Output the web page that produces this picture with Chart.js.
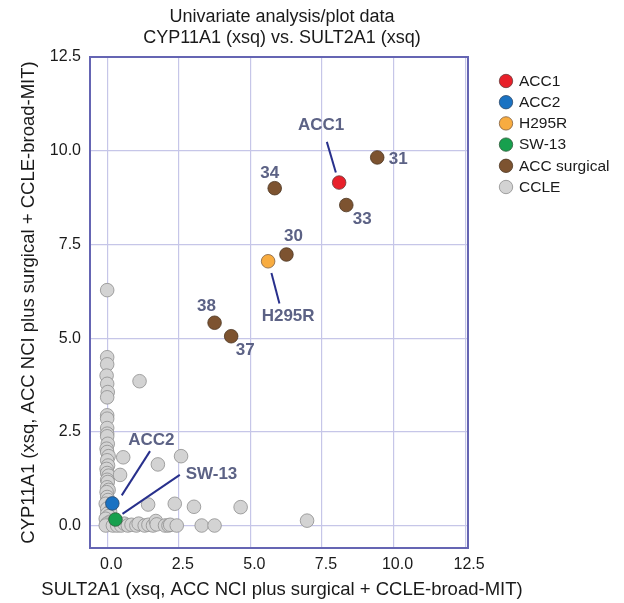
<!DOCTYPE html>
<html>
<head>
<meta charset="utf-8">
<script src="https://cdn.jsdelivr.net/npm/chart.js@4/dist/chart.umd.min.js"></script>
<style>
  html, body { margin: 0; padding: 0; background: #ffffff; }
  #wrap { width: 624px; height: 603px; position: relative; }
</style>
</head>
<body>
<div id="wrap"><canvas id="c" width="624" height="603"></canvas></div>
<script>
// ---------------- data ----------------
const seriesNames = ['ACC1', 'ACC2', 'H295R', 'SW-13', 'ACC surgical', 'CCLE'];

const acc1X = [8.1];   const acc1Y = [9.15];
const acc2X = [0.18];  const acc2Y = [0.59];
const h295rX = [5.62]; const h295rY = [7.05];
const sw13X = [0.29];  const sw13Y = [0.16];

const surgicalLabels = ['31', '34', '33', '30', '38', '37'];
const surgicalX = [9.43, 5.85, 8.35, 6.26, 3.75, 4.33];
const surgicalY = [9.82, 9.00, 8.55, 7.23, 5.41, 5.05];

const ccleX = [
  0.00, 0.00, 0.00, -0.02, 0.00, 0.02, 0.00, 0.00, 0.00, 0.00,
  0.00, 0.00, 0.02, -0.02, 0.00, 0.05, 0.00, 0.03, -0.02, 0.00,
  0.05, 0.00, 0.02, 0.00, 0.05, -0.02, 0.00, 0.03, -0.05, 0.00,
  0.10, 0.00, 0.05, -0.05, 0.10, 0.00, 0.15, -0.05, 0.20,
  1.13, 0.56, 1.77, 2.58, 0.45, 1.43, 2.36, 3.03, 4.66, 6.98,
  0.35, 0.49, 0.60, 0.72, 0.85, 1.02, 1.10, 1.31, 1.44, 1.60,
  1.70, 1.73, 2.02, 2.14, 2.20, 2.43, 3.30, 3.75
];
const ccleY = [
  6.28, 4.49, 4.30, 4.00, 3.78, 3.56, 3.42, 2.94, 2.85, 2.60,
  2.45, 2.38, 2.18, 2.05, 1.96, 1.85, 1.74, 1.60, 1.51, 1.40,
  1.33, 1.22, 1.16, 1.02, 0.95, 0.89, 0.76, 0.68, 0.58, 0.45,
  0.38, 0.31, 0.25, 0.18, 0.10, 0.05, 0.03, 0.00, 0.00,
  3.85, 1.82, 1.63, 1.85, 1.35, 0.56, 0.58, 0.50, 0.49, 0.13,
  0.00, 0.00, 0.05, 0.00, 0.02, 0.00, 0.05, 0.00, 0.02, 0.00,
  0.12, 0.03, 0.00, 0.00, 0.02, 0.00, 0.00, 0.00
];

const axisTicks = [0, 2.5, 5, 7.5, 10, 12.5];
const titleLines = ['Univariate analysis/plot data', 'CYP11A1 (xsq) vs. SULT2A1 (xsq)'];
const xTitle = 'SULT2A1 (xsq, ACC NCI plus surgical + CCLE-broad-MIT)';
const yTitle = 'CYP11A1 (xsq, ACC NCI plus surgical + CCLE-broad-MIT)';

// ---------------- styles ----------------
const fills   = ['#e8202a', '#1a72c2', '#f8ac40', '#17a04e', '#7d5330', '#d3d3d3'];
const borders = ['#6a3a3a', '#2f4a6a', '#806040', '#2f5a3a', '#4a3420', '#8e8e8e'];
const FONT = '"Liberation Sans", Arial, Helvetica, sans-serif';

// annotation layout: label centre offset (dx,dy) and optional leader line (label end, point end) in px
const annotations = [
  { ds: 0, i: 0, text: 'ACC1',  dx: -18, dy: -57, line: [-12.3, -40.7, -3.3, -10] },
  { ds: 4, i: 0, text: surgicalLabels[0], dx: 21, dy: 2 },
  { ds: 4, i: 1, text: surgicalLabels[1], dx: -5, dy: -15 },
  { ds: 4, i: 2, text: surgicalLabels[2], dx: 16, dy: 14 },
  { ds: 4, i: 3, text: surgicalLabels[3], dx: 7, dy: -18 },
  { ds: 4, i: 4, text: surgicalLabels[4], dx: -8, dy: -16 },
  { ds: 4, i: 5, text: surgicalLabels[5], dx: 14, dy: 14 },
  { ds: 2, i: 0, text: 'H295R', dx: 20, dy: 55, line: [11.3, 42.3, 3.3, 11.7] },
  { ds: 1, i: 0, text: 'ACC2',  dx: 39, dy: -63, line: [37.7, -52.3, 9.4, -8] },
  { ds: 3, i: 0, text: 'SW-13', dx: 96, dy: -45, line: [64.3, -44.7, 7, -5.7] }
];

function pts(xs, ys) { return xs.map((x, k) => ({ x: x, y: ys[k] })); }
const seriesData = [
  pts(acc1X, acc1Y), pts(acc2X, acc2Y), pts(h295rX, h295rY),
  pts(sw13X, sw13Y), pts(surgicalX, surgicalY), pts(ccleX, ccleY)
];

const datasets = seriesNames.map((name, k) => ({
  label: name,
  data: seriesData[k],
  backgroundColor: fills[k],
  borderColor: borders[k],
  borderWidth: 0.8,
  pointRadius: 6.8,
  pointHoverRadius: 6.8
}));

// ---------------- plugins ----------------
const frame = {
  id: 'frame',
  beforeDatasetsDraw(chart) {
    const { ctx, chartArea: a } = chart;
    ctx.save();
    ctx.strokeStyle = '#6565b3';
    ctx.lineWidth = 2;
    ctx.strokeRect(a.left, a.top, a.right - a.left, a.bottom - a.top);
    ctx.restore();
  }
};

const titles = {
  id: 'titles',
  afterDraw(chart) {
    const { ctx, chartArea: a } = chart;
    const cx = (a.left + a.right) / 2 + 3;
    const cy = (a.top + a.bottom) / 2;
    ctx.save();
    ctx.fillStyle = '#1a1a1a';
    ctx.textAlign = 'center';
    ctx.textBaseline = 'middle';
    ctx.font = '18px ' + FONT;
    titleLines.forEach((t, k) => ctx.fillText(t, cx, 17 + k * 21));
    ctx.font = '18.5px ' + FONT;
    ctx.fillText(xTitle, cx, 590);
    ctx.translate(28.5, cy);
    ctx.rotate(-Math.PI / 2);
    ctx.fillText(yTitle, 0, 0);
    ctx.restore();
  }
};

const annot = {
  id: 'annot',
  afterDatasetsDraw(chart) {
    const ctx = chart.ctx;
    ctx.save();
    annotations.forEach(an => {
      const el = chart.getDatasetMeta(an.ds).data[an.i];
      if (!el) return;
      const x = el.x, y = el.y;
      if (an.line) {
        ctx.strokeStyle = '#28308c';
        ctx.lineWidth = 2;
        ctx.beginPath();
        ctx.moveTo(x + an.line[0], y + an.line[1]);
        ctx.lineTo(x + an.line[2], y + an.line[3]);
        ctx.stroke();
      }
      ctx.fillStyle = '#5c6285';
      ctx.font = 'bold 17px ' + FONT;
      ctx.textAlign = 'center';
      ctx.textBaseline = 'middle';
      ctx.fillText(an.text, x + an.dx, y + an.dy);
    });
    ctx.restore();
  }
};

const sideLegend = {
  id: 'sideLegend',
  afterDraw(chart) {
    const ctx = chart.ctx;
    ctx.save();
    chart.data.datasets.forEach((ds, k) => {
      const cy = 81 + k * 21.2;
      ctx.beginPath();
      ctx.arc(506, cy, 6.7, 0, Math.PI * 2);
      ctx.fillStyle = ds.backgroundColor;
      ctx.fill();
      ctx.lineWidth = 0.8;
      ctx.strokeStyle = ds.borderColor;
      ctx.stroke();
      ctx.fillStyle = '#1a1a1a';
      ctx.font = '15.5px ' + FONT;
      ctx.textAlign = 'left';
      ctx.textBaseline = 'middle';
      ctx.fillText(ds.label, 519, cy + 0.5);
    });
    ctx.restore();
  }
};

// ---------------- chart ----------------
new Chart(document.getElementById('c'), {
  type: 'scatter',
  data: { datasets: datasets },
  options: {
    responsive: false,
    animation: false,
    events: [],
    layout: { padding: { left: 0, right: 156, top: 57, bottom: 0 } },
    plugins: {
      legend: { display: false },
      tooltip: { enabled: false },
      title: { display: false }
    },
    scales: {
      x: {
        type: 'linear',
        min: -0.6, max: 12.6,
        afterFit(s) { s.height = 55; },
        afterBuildTicks(s) { s.ticks = axisTicks.map(v => ({ value: v })); },
        ticks: {
          color: '#1a1a1a',
          padding: 7,
          labelOffset: 4,
          font: { family: FONT, size: 16 },
          callback: v => Number(v).toFixed(1)
        },
        grid: { color: '#c6c6e8', lineWidth: 1.2, drawTicks: false },
        border: { display: false },
        title: { display: false }
      },
      y: {
        type: 'linear',
        min: -0.6, max: 12.5,
        afterFit(s) { s.width = 90; },
        afterBuildTicks(s) { s.ticks = axisTicks.map(v => ({ value: v })); },
        ticks: {
          color: '#1a1a1a',
          padding: 9,
          font: { family: FONT, size: 16 },
          callback: v => Number(v).toFixed(1)
        },
        grid: { color: '#c6c6e8', lineWidth: 1.2, drawTicks: false },
        border: { display: false },
        title: { display: false }
      }
    }
  },
  plugins: [frame, annot, sideLegend, titles]
});
</script>
</body>
</html>
